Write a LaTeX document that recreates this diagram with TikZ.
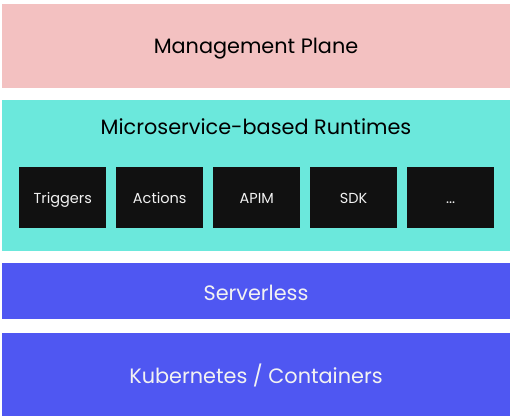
\documentclass[tikz,border=0pt]{standalone}
\usepackage{fontspec}
\setmainfont{Poppins}
\definecolor{pinkc}{HTML}{F3C1C1}
\definecolor{tealc}{HTML}{6BE8DC}
\definecolor{bluec}{HTML}{4F57F2}
\definecolor{blackc}{HTML}{111111}
\definecolor{lightc}{HTML}{F2F2F2}
\begin{document}
\begin{tikzpicture}[x=1pt,y=-1pt,
  bigtext/.style={font=\fontsize{20.8}{24}\selectfont,anchor=base,inner sep=0pt},
  smalltext/.style={font=\fontsize{14.5}{17}\selectfont,text=lightc,anchor=base,inner sep=0pt},
  svcbox/.style={fill=blackc,draw=none,minimum width=87pt,minimum height=61pt,inner sep=0pt,anchor=north west}]
\useasboundingbox (0,0) rectangle (512,420);
\fill[white] (0,0) rectangle (512,420);
\fill[pinkc] (2,4) rectangle (510,88);
\fill[tealc] (2,100) rectangle (510,251);
\fill[bluec] (2,263) rectangle (510,319);
\fill[bluec] (2,333) rectangle (510,416);
\node[bigtext] (mgmt) at (256,54) {Management Plane};
\node[bigtext] (micro) at (256,135) {Microservice-based Runtimes};
\node[bigtext,text=lightc] (srv) at (256,300) {Serverless};
\node[bigtext,text=lightc] (k8s) at (256,383) {Kubernetes / Containers};
\node[svcbox] (b1) at (19,167) {};
\node[svcbox] (b2) at (116,167) {};
\node[svcbox] (b3) at (213,167) {};
\node[svcbox] (b4) at (310,167) {};
\node[svcbox] (b5) at (407,167) {};
\node[smalltext] (t1) at ([yshift=-6pt]b1.center) {Triggers};
\node[smalltext] (t2) at ([yshift=-6pt]b2.center) {Actions};
\node[smalltext] (t3) at ([yshift=-6pt]b3.center) {APIM};
\node[smalltext] (t4) at ([yshift=-6pt]b4.center) {SDK};
\node[smalltext] (t5) at ([yshift=-6pt]b5.center) {...};
\end{tikzpicture}
\end{document}
